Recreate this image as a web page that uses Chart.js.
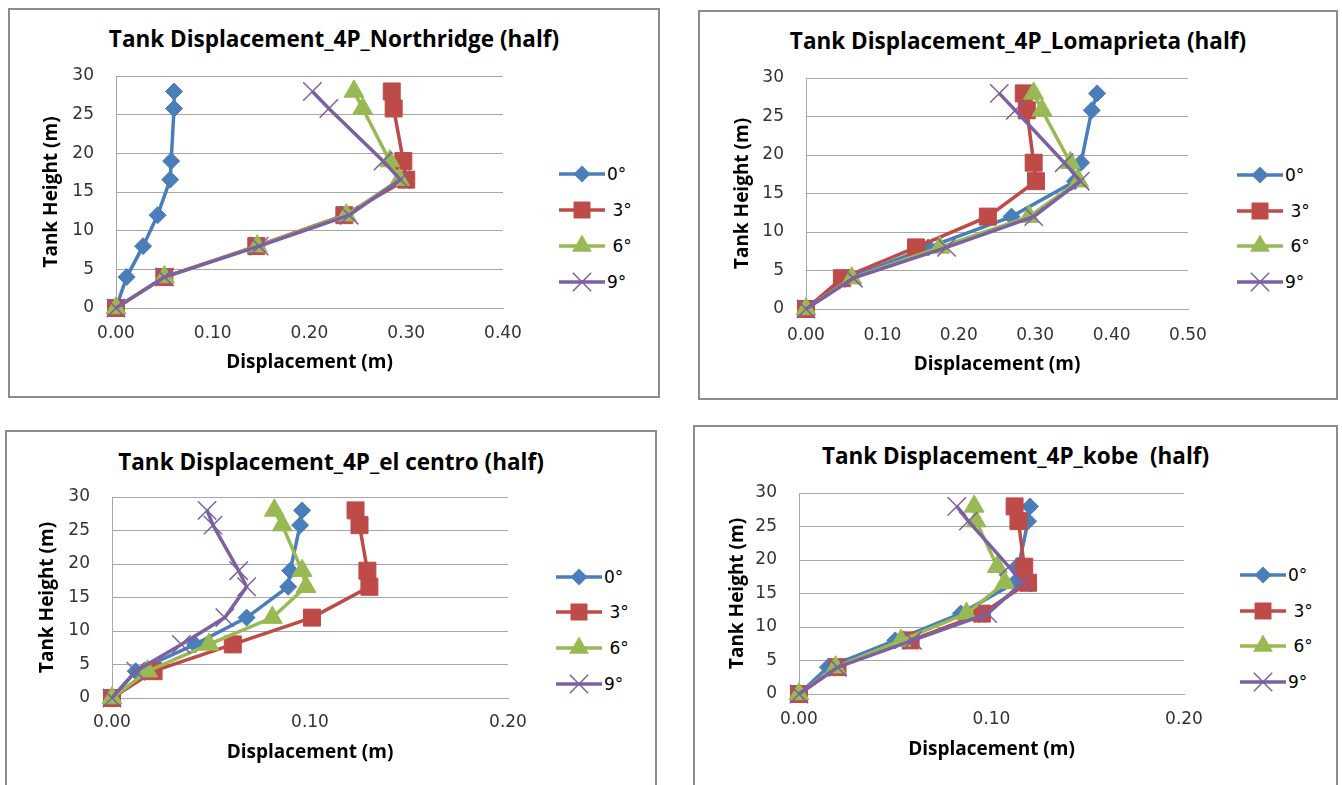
<!DOCTYPE html>
<html><head><meta charset="utf-8">
<script src="https://cdn.jsdelivr.net/npm/chart.js@4.4.1/dist/chart.umd.min.js"></script>
<style>
body{margin:0;width:1342px;height:785px;background:#fff;position:relative;overflow:hidden}
.box{position:absolute;border:2px solid #8c8c8c;box-sizing:border-box}
.ttl{position:absolute;font-weight:bold;font-size:22.5px;white-space:pre;transform:translate(-50%,-50%);color:#000;font-family:"Open Sans",sans-serif}
canvas.c{position:absolute}
.leg{position:absolute;display:flex;align-items:center;font-size:17px;white-space:pre;color:#000;font-family:"DejaVu Sans",sans-serif;transform:translateY(-50%)}
.leg canvas{display:block}
</style></head><body>
<script>
// ---- data ----
const heights = [0, 4, 8, 12, 16.6, 19, 25.8, 28];
const seriesLabels = ['0°', ' 3°', ' 6°', '9°'];

const northridge0 = [0, 0.011, 0.028, 0.043, 0.056, 0.057, 0.060, 0.060];
const northridge3 = [0, 0.050, 0.145, 0.236, 0.300, 0.297, 0.287, 0.285];
const northridge6 = [0, 0.050, 0.146, 0.238, 0.293, 0.283, 0.255, 0.246];
const northridge9 = [0, 0.050, 0.148, 0.241, 0.294, 0.276, 0.220, 0.203];

const lomaprieta0 = [0, 0.055, 0.160, 0.269, 0.352, 0.360, 0.374, 0.381];
const lomaprieta3 = [0, 0.047, 0.144, 0.238, 0.301, 0.298, 0.289, 0.285];
const lomaprieta6 = [0, 0.060, 0.175, 0.292, 0.357, 0.346, 0.309, 0.298];
const lomaprieta9 = [0, 0.062, 0.184, 0.298, 0.359, 0.338, 0.274, 0.253];

const elcentro0 = [0, 0.012, 0.042, 0.068, 0.089, 0.090, 0.095, 0.096];
const elcentro3 = [0, 0.021, 0.061, 0.101, 0.130, 0.129, 0.125, 0.123];
const elcentro6 = [0, 0.018, 0.049, 0.081, 0.098, 0.096, 0.086, 0.082];
const elcentro9 = [0, 0.012, 0.035, 0.057, 0.068, 0.064, 0.051, 0.048];

const kobe0 = [0, 0.015, 0.050, 0.084, 0.112, 0.114, 0.119, 0.120];
const kobe3 = [0, 0.020, 0.058, 0.095, 0.119, 0.117, 0.114, 0.112];
const kobe6 = [0, 0.019, 0.053, 0.087, 0.107, 0.103, 0.092, 0.091];
const kobe9 = [0, 0.020, 0.059, 0.098, 0.116, 0.109, 0.088, 0.082];

const chartTitles = [
  'Tank Displacement_4P_Northridge (half)',
  'Tank Displacement_4P_Lomaprieta (half)',
  'Tank Displacement_4P_el centro (half)',
  'Tank Displacement_4P_kobe  (half)'
];
const xAxisTitle = 'Displacement (m)';
const yAxisTitle = 'Tank Height (m)';
const xMaxima = [0.4, 0.5, 0.2, 0.2];

// ---- styles / layout ----
const colors = ['#4A7EBB', '#BE4B48', '#98B954', '#7D60A0'];
const markers = ['rectRot', 'rect', 'triangle', 'crossRot'];
const radii = [8.5, 12, 11.5, 13];
const gridColor = '#a6a6a6';
const TICKFONT = '"DejaVu Sans", sans-serif';
const TITLEFONT = '"Open Sans", sans-serif';

const layouts = [
  {box:{x:8,y:8,w:652,h:390},   plot:{l:116,r:503,t:76,b:308},  titleY:38,  xTickY:334, xTitleY:363, yTitleX:52,  legX:557,  legY:[174,210,246,282]},
  {box:{x:698,y:10,w:640,h:390},plot:{l:806,r:1188,t:78,b:309}, titleY:40,  xTickY:336, xTitleY:365, yTitleX:743, legX:1235, legY:[175,211,246,282]},
  {box:{x:5,y:430,w:652,h:362}, plot:{l:112,r:508,t:497,b:698}, titleY:461, xTickY:723, xTitleY:753, yTitleX:48,  legX:554,  legY:[577,612,648,684]},
  {box:{x:693,y:425,w:645,h:367},plot:{l:799,r:1184,t:493,b:694},titleY:455, xTickY:720, xTitleY:750, yTitleX:738, legX:1238, legY:[575,611,646,682]}
];
const allSeries = [
  [northridge0, northridge3, northridge6, northridge9],
  [lomaprieta0, lomaprieta3, lomaprieta6, lomaprieta9],
  [elcentro0, elcentro3, elcentro6, elcentro9],
  [kobe0, kobe3, kobe6, kobe9]
];

function drawIcon(ctx, i, cx, cy) {
  const r = radii[i];
  ctx.fillStyle = colors[i]; ctx.strokeStyle = colors[i];
  ctx.beginPath();
  if (markers[i] === 'rectRot') {
    ctx.moveTo(cx, cy - r); ctx.lineTo(cx + r, cy); ctx.lineTo(cx, cy + r); ctx.lineTo(cx - r, cy); ctx.closePath(); ctx.fill();
  } else if (markers[i] === 'rect') {
    const s = Math.SQRT1_2 * r; ctx.rect(cx - s, cy - s, 2 * s, 2 * s); ctx.fill();
  } else if (markers[i] === 'triangle') {
    for (let k = 0; k < 3; k++) { const a = k * 2 * Math.PI / 3; const px = cx + Math.sin(a) * r, py = cy - Math.cos(a) * r; k ? ctx.lineTo(px, py) : ctx.moveTo(px, py); }
    ctx.closePath(); ctx.fill();
  } else {
    const o = Math.SQRT1_2 * r; ctx.lineWidth = 1.5;
    ctx.moveTo(cx - o, cy - o); ctx.lineTo(cx + o, cy + o); ctx.moveTo(cx + o, cy - o); ctx.lineTo(cx - o, cy + o); ctx.stroke();
  }
}

layouts.forEach((L, ci) => {
  const box = document.createElement('div'); box.className = 'box';
  Object.assign(box.style, {left: L.box.x + 'px', top: L.box.y + 'px', width: L.box.w + 'px', height: L.box.h + 'px'});
  document.body.appendChild(box);

  const t = document.createElement('div'); t.className = 'ttl'; t.textContent = chartTitles[ci];
  t.style.left = (L.box.x + L.box.w / 2) + 'px'; t.style.top = L.titleY + 'px';
  document.body.appendChild(t);

  const W = L.plot.r - L.box.x + 40, H = L.box.h;
  const cv = document.createElement('canvas'); cv.className = 'c';
  cv.width = W; cv.height = H;
  Object.assign(cv.style, {left: L.box.x + 'px', top: L.box.y + 'px', width: W + 'px', height: H + 'px'});
  document.body.appendChild(cv);

  const tickFont = {family: TICKFONT, size: 17};
  const titleFont = {family: TITLEFONT, size: 19, weight: 'bold'};
  const tickLH = 17 * 1.2, titleLH = 19 * 1.2;

  new Chart(cv, {
    type: 'line',
    data: {
      datasets: allSeries[ci].map((vals, i) => ({
        label: seriesLabels[i].trim(),
        data: vals.map((v, k) => ({x: v, y: heights[k]})),
        borderColor: colors[i], backgroundColor: colors[i],
        borderWidth: 3.5, tension: 0,
        pointStyle: markers[i], pointRadius: radii[i],
        pointBorderColor: colors[i], pointBackgroundColor: colors[i],
        pointBorderWidth: i === 3 ? 1.5 : 1,
        order: 3 - i, clip: false
      }))
    },
    options: {
      responsive: false, animation: false, devicePixelRatio: 1,
      layout: {padding: {left: 0, top: L.plot.t - L.box.y, right: 40, bottom: 0}},
      plugins: {legend: {display: false}, title: {display: false}, tooltip: {enabled: false}},
      scales: {
        x: {
          type: 'linear', min: 0, max: xMaxima[ci],
          ticks: {stepSize: 0.1, callback: v => Number(v).toFixed(2), padding: L.xTickY - L.plot.b - tickLH / 2, font: tickFont, color: '#333333', maxRotation: 0},
          grid: {display: false, drawTicks: false},
          border: {display: true, color: gridColor, width: 1},
          title: {display: true, text: xAxisTitle, font: titleFont, color: '#000', padding: {top: 0, bottom: (L.box.y + H - L.xTitleY) - titleLH / 2}},
          afterFit: s => { s.height = L.box.y + H - L.plot.b; }
        },
        y: {
          type: 'linear', min: 0, max: 30,
          ticks: {stepSize: 5, padding: 22, font: tickFont, color: '#333333'},
          grid: {color: gridColor, lineWidth: 1, drawTicks: false},
          border: {display: true, color: gridColor, width: 1},
          title: {display: true, text: yAxisTitle, font: titleFont, color: '#000', padding: {top: (L.yTitleX - L.box.x) - titleLH / 2, bottom: 0}},
          afterFit: s => { s.width = L.plot.l - L.box.x; }
        }
      }
    }
  });

  L.legY.forEach((y, i) => {
    const it = document.createElement('div'); it.className = 'leg';
    it.style.left = L.legX + 'px'; it.style.top = y + 'px';
    const ic = document.createElement('canvas'); ic.width = 50; ic.height = 28;
    const g = ic.getContext('2d');
    g.strokeStyle = colors[i]; g.lineWidth = 3.5; g.beginPath(); g.moveTo(2, 14); g.lineTo(48, 14); g.stroke();
    drawIcon(g, i, 25, 14);
    it.appendChild(ic);
    const sp = document.createElement('span'); sp.textContent = seriesLabels[i]; it.appendChild(sp);
    document.body.appendChild(it);
  });
});
</script>
</body></html>
